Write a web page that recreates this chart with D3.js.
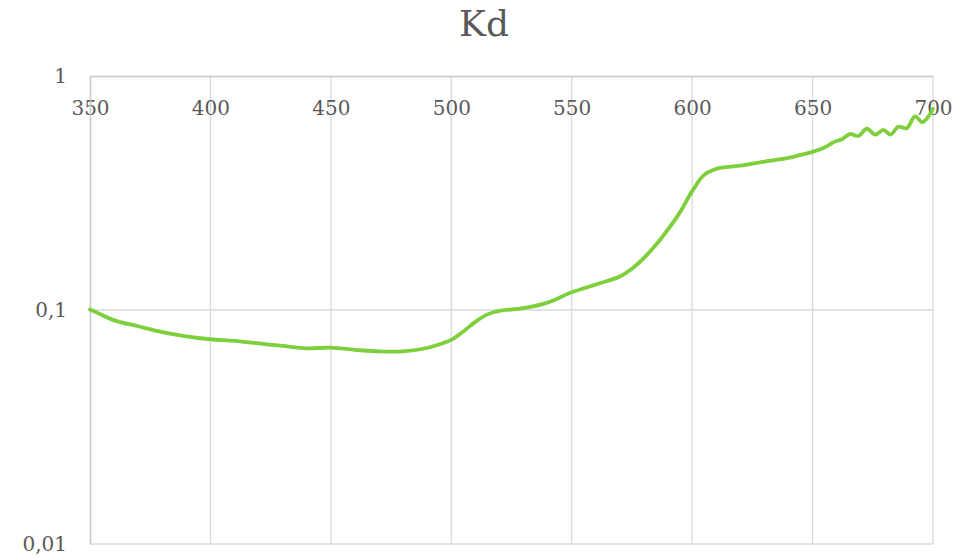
<!DOCTYPE html>
<html>
<head>
<meta charset="utf-8">
<script src="https://cdn.jsdelivr.net/npm/d3@7"></script>
<style>
  html, body { margin: 0; padding: 0; background: #ffffff; }
  svg { display: block; }
</style>
</head>
<body>
<svg id="chart" width="967" height="558"></svg>
<script>
// Diffuse attenuation coefficient Kd by wavelength (nm)
const wavelengths = [350, 355, 360, 370, 380, 390, 400, 410, 420, 430, 440, 450, 460, 470, 480,
  490, 495, 500, 505, 510, 515, 520, 530, 540, 550, 560, 570, 575, 580, 585, 590, 595, 600,
  605, 610, 615, 620, 630, 640, 645, 650, 655, 659, 662, 665.5, 669, 672.5, 676, 679.4, 682.4,
  685.6, 689.1, 692.5, 695.7, 700];
const kdValues = [0.1005, 0.0952, 0.0903, 0.0852, 0.0805, 0.0772, 0.0750, 0.0738, 0.0720, 0.0702,
  0.0686, 0.0690, 0.0676, 0.0665, 0.0666, 0.0688, 0.0713, 0.0745, 0.0810, 0.0890, 0.0958, 0.0992,
  0.1018, 0.1075, 0.1190, 0.1285, 0.1390, 0.1500, 0.1670, 0.1900, 0.2210, 0.2620, 0.3220,
  0.3780, 0.4010, 0.4090, 0.4140, 0.4310, 0.4470, 0.4600, 0.4740, 0.4950, 0.5230, 0.5350,
  0.5650, 0.5540, 0.5950, 0.5620, 0.5880, 0.5620, 0.6070, 0.5980, 0.6720, 0.6350, 0.7230];

const xTicks = [350, 400, 450, 500, 550, 600, 650, 700];
const yTicks = [0.01, 0.1, 1];
const yTickLabels = ["0,01", "0,1", "1"];
const chartTitle = "Kd";

const fontFamily = "DejaVu Serif";
const textColor = "#595959";

const svg = d3.select("#chart");
const plotLeft = 90, plotRight = 933, plotTop = 76, plotBottom = 544;

const x = d3.scaleLinear().domain([350, 700]).range([plotLeft, plotRight]);
const y = d3.scaleLog().domain([0.01, 1]).range([plotBottom, plotTop]);

// Title
svg.append("text")
  .attr("x", 484).attr("y", 36)
  .attr("text-anchor", "middle")
  .style("font-family", fontFamily)
  .style("font-size", "36px")
  .attr("fill", textColor)
  .text(chartTitle);

// Vertical gridlines
svg.append("g")
  .selectAll("line")
  .data(xTicks.slice(1))
  .join("line")
  .attr("x1", d => x(d)).attr("x2", d => x(d))
  .attr("y1", plotTop).attr("y2", plotBottom)
  .attr("stroke", "#d9d9d9").attr("stroke-width", 1.3);

// Horizontal gridlines
svg.append("g")
  .selectAll("line")
  .data(yTicks.slice(0, 2))
  .join("line")
  .attr("x1", plotLeft).attr("x2", plotRight)
  .attr("y1", d => y(d)).attr("y2", d => y(d))
  .attr("stroke", "#d9d9d9").attr("stroke-width", 1.3);

// X axis: line along the top (value 1), labels beneath it
const xAxis = svg.append("g")
  .attr("transform", `translate(0,${y(1)})`)
  .call(d3.axisBottom(x).tickValues(xTicks).tickSize(0).tickFormat(d3.format("d")));
xAxis.select(".domain").attr("stroke", "#c8c8c8").attr("stroke-width", 1.5);
xAxis.selectAll("text")
  .style("font-family", fontFamily).style("font-size", "20px")
  .attr("fill", textColor).attr("dy", "0.35em").attr("y", 32);

// Y axis (log)
const yAxis = svg.append("g")
  .attr("transform", `translate(${x(350)},0)`)
  .call(d3.axisLeft(y).tickValues(yTicks).tickSize(0).tickPadding(23)
    .tickFormat((d, i) => yTickLabels[i]));
yAxis.select(".domain").attr("stroke", "#c8c8c8").attr("stroke-width", 1.5);
yAxis.selectAll("text")
  .style("font-family", fontFamily).style("font-size", "20px")
  .attr("fill", textColor).attr("dy", "0.3em");

// Data line
const data = wavelengths.map((w, i) => ({ w, v: kdValues[i] }));
const line = d3.line()
  .x(d => x(d.w))
  .y(d => y(d.v))
  .curve(d3.curveCatmullRom.alpha(0.5));

svg.append("path")
  .datum(data)
  .attr("fill", "none")
  .attr("stroke", "#7dcf3b")
  .attr("stroke-width", 3.8)
  .attr("stroke-linejoin", "round")
  .attr("stroke-linecap", "round")
  .attr("d", line);
</script>
</body>
</html>
